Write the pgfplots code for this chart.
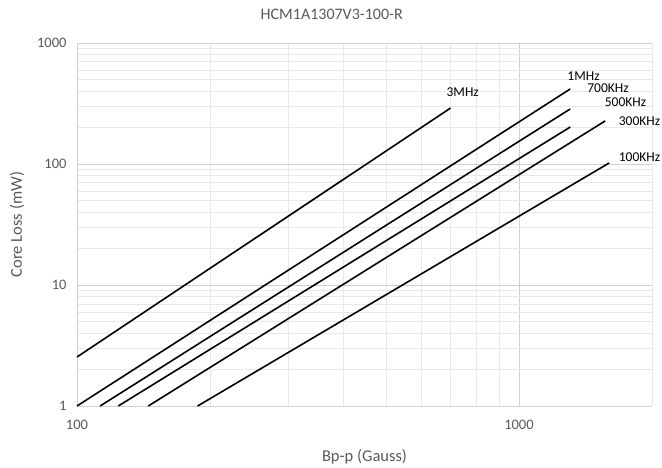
\documentclass[border=0pt]{standalone}
\usepackage{pgfplots}
\pgfplotsset{compat=1.18}
\usepackage{fontspec}
\setmainfont{Carlito}
\definecolor{txt}{HTML}{595959}
\definecolor{majgrid}{HTML}{D0D0D0}
\definecolor{mingrid}{HTML}{E8E8E8}
\begin{document}
\begin{tikzpicture}
\useasboundingbox (-77pt,-61pt) rectangle (585pt,406pt);
\begin{axis}[
  scale only axis,
  width=575pt, height=363pt,
  xmode=log, ymode=log,
  xmin=100, xmax=2000, ymin=1, ymax=1000,
  xtick={100,1000}, xticklabels={100,1000},
  ytick={1,10,100,1000}, yticklabels={1,10,100,1000},
  minor xtick={200,300,400,500,600,700,800,900,2000},
  minor ytick={2,3,4,5,6,7,8,9,20,30,40,50,60,70,80,90,200,300,400,500,600,700,800,900},
  grid=both,
  major grid style={majgrid, line width=0.6pt},
  minor grid style={mingrid, line width=0.5pt},
  axis line style={majgrid},
  axis x line*=bottom, axis y line*=left,
  tick style={draw=none},
  minor tick style={draw=none},
  ticklabel style={font=\fontsize{14.5}{16}\selectfont, text=txt},
  xticklabel style={yshift=-11pt},
  yticklabel style={xshift=-7pt},
  xlabel={Bp-p (Gauss)}, ylabel={Core Loss (mW)},
  label style={font=\fontsize{16.5}{18}\selectfont, text=txt},
  xlabel style={at={(axis description cs:0.5,0)}, anchor=center, yshift=-51pt},
  ylabel style={at={(axis description cs:0,0.5)}, anchor=center, yshift=60pt},
  title={HCM1A1307V3-100-R},
  title style={font=\fontsize{16}{18}\selectfont, text=txt, at={(axis description cs:0.443,1)}, anchor=center, yshift=23pt},
  clip=false,
]
\addplot[black, line width=1.6pt] coordinates {(100,2.54) (700,290)};
\addplot[black, line width=1.6pt] coordinates {(100,1) (1306,417)};
\addplot[black, line width=1.6pt] coordinates {(112.8,1) (1306,285)};
\addplot[black, line width=1.6pt] coordinates {(124,1) (1306,202)};
\addplot[black, line width=1.6pt] coordinates {(145,1) (1567,227)};
\addplot[black, line width=1.6pt] coordinates {(187.5,1) (1600,102)};
\node[font=\fontsize{13.5}{15}\selectfont] at (axis cs:746,394) {3MHz};
\node[font=\fontsize{13.5}{15}\selectfont] at (axis cs:1400,535) {1MHz};
\node[font=\fontsize{13.5}{15}\selectfont] at (axis cs:1590,425) {700KHz};
\node[font=\fontsize{13.5}{15}\selectfont] at (axis cs:1742,325) {500KHz};
\node[font=\fontsize{13.5}{15}\selectfont] at (axis cs:1874,227) {300KHz};
\node[font=\fontsize{13.5}{15}\selectfont] at (axis cs:1874,114) {100KHz};
\end{axis}
\end{tikzpicture}
\end{document}
